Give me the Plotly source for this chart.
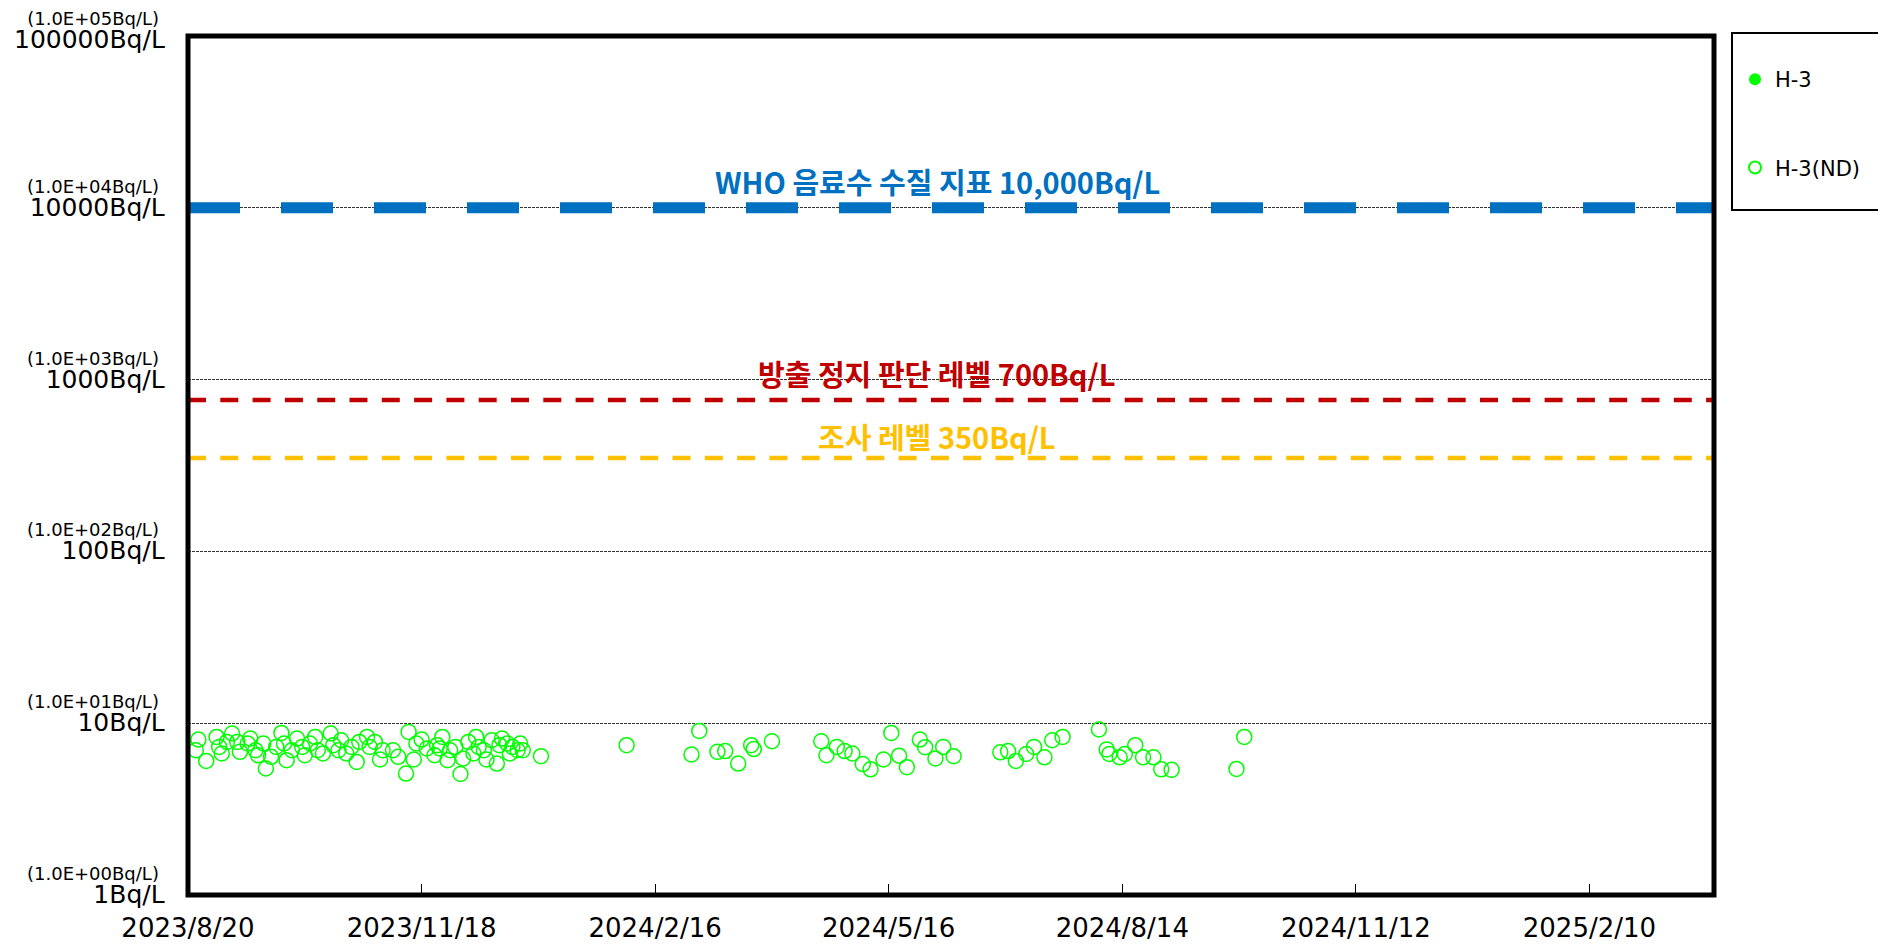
import math
import plotly.graph_objects as go

# ---------------- data ----------------
nd_dates = [
    "2023-08-23", "2023-08-24", "2023-08-27", "2023-08-31", "2023-09-01", "2023-09-02",
    "2023-09-04", "2023-09-06", "2023-09-08", "2023-09-09", "2023-09-12", "2023-09-13",
    "2023-09-15", "2023-09-16", "2023-09-18", "2023-09-19", "2023-09-21", "2023-09-23",
    "2023-09-25", "2023-09-26", "2023-09-27", "2023-09-29", "2023-10-01", "2023-10-03",
    "2023-10-04", "2023-10-06", "2023-10-08", "2023-10-09", "2023-10-11", "2023-10-14",
    "2023-10-15", "2023-10-17", "2023-10-18", "2023-10-20", "2023-10-22", "2023-10-24",
    "2023-10-25", "2023-10-28", "2023-10-29", "2023-10-31", "2023-11-02", "2023-11-03",
    "2023-11-07", "2023-11-09", "2023-11-12", "2023-11-13", "2023-11-15", "2023-11-16",
    "2023-11-18", "2023-11-20", "2023-11-23", "2023-11-24", "2023-11-25", "2023-11-26",
    "2023-11-28", "2023-11-29", "2023-12-01", "2023-12-03", "2023-12-04", "2023-12-06",
    "2023-12-08", "2023-12-09", "2023-12-10", "2023-12-12", "2023-12-13", "2023-12-15",
    "2023-12-17", "2023-12-18", "2023-12-19", "2023-12-21", "2023-12-22", "2023-12-23",
    "2023-12-25", "2023-12-26", "2023-12-27", "2024-01-03",
    "2024-02-05", "2024-03-01", "2024-03-04", "2024-03-11", "2024-03-14", "2024-03-19",
    "2024-03-24", "2024-03-25", "2024-04-01", "2024-04-20", "2024-04-22",
    "2024-04-26", "2024-04-29", "2024-05-02", "2024-05-06", "2024-05-09", "2024-05-14",
    "2024-05-17", "2024-05-20", "2024-05-23", "2024-05-28", "2024-05-30", "2024-06-03",
    "2024-06-06", "2024-06-10", "2024-06-28", "2024-07-01", "2024-07-04", "2024-07-08",
    "2024-07-11", "2024-07-15", "2024-07-18", "2024-07-22", "2024-08-05", "2024-08-08",
    "2024-08-09", "2024-08-13", "2024-08-15", "2024-08-19", "2024-08-22", "2024-08-26",
    "2024-08-29", "2024-09-02", "2024-09-27", "2024-09-30",
]
nd_values = [
    6.96, 8.03, 6.03, 8.32, 7.28, 6.66,
    7.78, 8.71, 7.78, 6.81, 7.62, 8.14,
    6.96, 6.51, 7.62, 5.45, 6.37, 7.28,
    8.78, 7.62, 6.09, 6.96, 8.14, 7.28,
    6.51, 7.62, 8.32, 6.96, 6.66, 8.71,
    7.45, 6.96, 7.96, 6.66, 7.28, 5.95,
    7.78, 8.32, 7.28, 7.78, 6.15, 6.96,
    6.96, 6.37, 5.09, 8.90, 6.15, 7.62,
    8.03, 7.12, 6.51, 7.45, 7.12, 8.32,
    6.09, 6.96, 7.28, 5.06, 6.23, 7.78,
    6.66, 8.32, 7.28, 6.96, 6.15, 7.96,
    5.82, 7.45, 8.14, 7.62, 6.66, 7.28,
    6.96, 7.62, 6.96, 6.43,
    7.45, 6.57, 9.02, 6.81, 6.88, 5.82,
    7.45, 7.07, 7.85, 7.85, 6.51,
    7.28, 6.88, 6.66, 5.78, 5.39, 6.15,
    8.78, 6.47, 5.55, 8.03, 7.25, 6.23,
    7.28, 6.43, 6.77, 6.88, 6.03, 6.62,
    7.28, 6.33, 7.96, 8.32, 9.19, 7.04,
    6.62, 6.33, 6.62, 7.45, 6.33, 6.33,
    5.39, 5.35, 5.42, 8.32,
]

# detected (above detection limit) values: none in this period
det_dates = []
det_values = []

series_names = ["H-3", "H-3(ND)"]

x_start = "2023-08-20"
x_end = "2025-03-30"
x_tick_dates = ["2023-08-20", "2023-11-18", "2024-02-16", "2024-05-16",
                "2024-08-14", "2024-11-12", "2025-02-10"]
x_tick_labels = ["2023/8/20", "2023/11/18", "2024/2/16", "2024/5/16",
                 "2024/8/14", "2024/11/12", "2025/2/10"]

y_tick_values = [1, 10, 100, 1000, 10000, 100000]
y_tick_main = ["1Bq/L", "10Bq/L", "100Bq/L", "1000Bq/L", "10000Bq/L", "100000Bq/L"]
y_tick_sub = ["(1.0E+00Bq/L)", "(1.0E+01Bq/L)", "(1.0E+02Bq/L)",
              "(1.0E+03Bq/L)", "(1.0E+04Bq/L)", "(1.0E+05Bq/L)"]

level_values = [10000, 760, 350]
level_labels = ["WHO 음료수 수질 지표 10,000Bq/L", "방출 정지 판단 레벨 700Bq/L", "조사 레벨 350Bq/L"]
level_colors = ["#0070C0", "#C00000", "#FFC000"]

# ---------------- figure ----------------
GREEN = "#00FF00"
AXFONT = "DejaVu Sans"
KFONT = "Noto Sans CJK KR"

# page has an 8px body margin; plot area in screen px: x 188..1714, y 36..895
FIG_W, FIG_H = 1878, 936
ML, MT = 180, 28
MR = FIG_W - (1714 - 8)
MB = FIG_H - (895 - 8)
PW = FIG_W - ML - MR
PH = FIG_H - MT - MB


def px_x(sx):
    return (sx - 8 - ML) / PW


def px_y(sy):
    return 1 - (sy - 8 - MT) / PH


fig = go.Figure()

# threshold lines
level_widths = [11, 4.5, 4.5]
level_dashes = ["52px,41px", "18px,14.3px", "18px,14.3px"]
for val, col, w, d in zip(level_values, level_colors, level_widths, level_dashes):
    fig.add_trace(go.Scatter(
        x=[x_start, x_end], y=[val, val], mode="lines",
        line=dict(color=col, width=w, dash=d),
        showlegend=False, hoverinfo="skip",
    ))

fig.add_trace(go.Scatter(
    x=det_dates if det_dates else [None], y=det_values if det_values else [None],
    mode="markers", name=series_names[0],
    marker=dict(symbol="circle", size=15, color=GREEN),
    legendgroup="a",
))
fig.add_trace(go.Scatter(
    x=nd_dates, y=nd_values, mode="markers", name=series_names[1],
    marker=dict(symbol="circle-open", size=15, color=GREEN, line=dict(width=1.5)),
    legendgroup="b",
))

# level labels
label_shift = [27, 27, 22]
for val, txt, col, ys in zip(level_values, level_labels, level_colors, label_shift):
    fig.add_annotation(
        xref="paper", yref="y", x=px_x(937), y=math.log10(val),
        text=f"<b>{txt}</b>",
        showarrow=False, xanchor="center", yanchor="middle", yshift=ys,
        font=dict(family=KFONT, size=29, color=col),
    )

# y-axis labels: small exponent line above the main value line
top_value = max(y_tick_values)
for v, main, sub in zip(y_tick_values, y_tick_main, y_tick_sub):
    fig.add_annotation(
        xref="paper", yref="y", x=0, y=math.log10(v),
        text=f"{sub}&nbsp;<br><span style='font-size:25px'>{main}</span>",
        showarrow=False, xanchor="right", yanchor="middle", align="right",
        xshift=-21, yshift=5 if v == top_value else 9,
        font=dict(family=AXFONT, size=18, color="black"),
    )

# plot frame
fig.add_shape(type="rect", xref="paper", yref="paper", x0=0, x1=1, y0=0, y1=1,
              line=dict(color="black", width=5), layer="above")
# legend frame
fig.add_shape(type="rect", xref="paper", yref="paper",
              x0=px_x(1732), x1=px_x(1885), y0=px_y(210), y1=px_y(33),
              line=dict(color="black", width=2), fillcolor="rgba(0,0,0,0)")

fig.update_layout(
    width=FIG_W, height=FIG_H,
    margin=dict(l=ML, r=MR, t=MT, b=MB, pad=0, autoexpand=False),
    paper_bgcolor="white", plot_bgcolor="white",
    showlegend=True,
    legend=dict(
        x=px_x(1735), y=px_y(59), xanchor="left", yanchor="top",
        bgcolor="rgba(0,0,0,0)", borderwidth=0,
        font=dict(family=AXFONT, size=21, color="black"),
        traceorder="grouped", tracegroupgap=58, itemsizing="constant",
    ),
    xaxis=dict(
        type="date", range=[x_start, x_end],
        tickmode="array", tickvals=x_tick_dates, ticktext=x_tick_labels,
        ticks="inside", ticklen=11, tickwidth=1, tickcolor="black",
        showgrid=False, zeroline=False, showline=False,
        tickfont=dict(family=AXFONT, size=26, color="black"),
        ticklabelstandoff=15,
    ),
    yaxis=dict(
        type="log", range=[0, 5],
        tickmode="array", tickvals=y_tick_values, showticklabels=False,
        ticks="", showgrid=True, gridcolor="#333333", gridwidth=1, griddash="3px,1px",
        zeroline=False, showline=False,
    ),
)

fig.write_html("out.html")
